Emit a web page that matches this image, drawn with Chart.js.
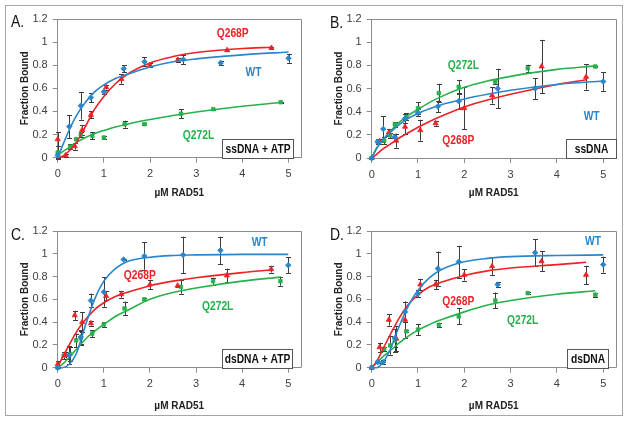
<!DOCTYPE html>
<html>
<head>
<meta charset="utf-8">
<script src="https://cdn.jsdelivr.net/npm/chart.js@4.4.1/dist/chart.umd.min.js"></script>
<style>
  body { margin: 0; background: #fff; }
  #fig { position: relative; width: 629px; height: 425px; overflow: hidden; }
  #frame { position: absolute; left: 5px; top: 5px; width: 616px; height: 409px; border: 1px solid #a6a6a6; }
  canvas { position: absolute; }
</style>
</head>
<body>
<div id="fig">
  <div id="frame"></div>
  <canvas id="panelA" width="314" height="212" style="left:0;top:0"></canvas>
  <canvas id="panelB" width="315" height="212" style="left:314px;top:0"></canvas>
  <canvas id="panelC" width="314" height="213" style="left:0;top:212px"></canvas>
  <canvas id="panelD" width="315" height="213" style="left:314px;top:212px"></canvas>
</div>
<script>
/* DATA */

// концентрации RAD51 (µM) для каждой серии
const wtConc    = [0, 0.13, 0.25, 0.5, 0.72, 1.0, 1.43, 1.88, 2.72, 3.53, 5.0];
const q268pConc = [0, 0.17, 0.37, 0.53, 0.72, 1.05, 1.38, 2.0, 2.6, 3.67, 4.63];
const q272lConc = [0, 0.13, 0.27, 0.4, 0.5, 0.75, 1.0, 1.45, 1.88, 2.67, 3.37, 4.83];

// точки кривых аппроксимации (последняя точка - конец кривой)
const wtFitX    = [0, 0.1, 0.25, 0.4, 0.6, 0.8, 1, 1.25, 1.5, 2, 2.5, 3, 4, 5];
const q268pFitX = [0, 0.1, 0.25, 0.4, 0.6, 0.8, 1, 1.25, 1.5, 2, 2.5, 3, 4, 4.63];
const q272lFitX = [0, 0.1, 0.25, 0.4, 0.6, 0.8, 1, 1.25, 1.5, 2, 2.5, 3, 4, 4.83];

// A. ssDNA + ATP
const aWt       = [0.02, null, 0.27, 0.45, 0.52, 0.57, 0.77, 0.83, 0.85, 0.82, 0.86];
const aWtErr    = [0.02, null, 0.10, 0.12, 0.04, 0.02, 0.03, 0.04, 0.04, 0.015, 0.04];
const aQ268p    = [0.16, 0.02, 0.10, 0.24, 0.37, 0.61, 0.68, 0.80, 0.845, 0.93, 0.95];
const aQ268pErr = [0.06, 0.01, 0.03, 0.04, 0.03, 0.02, 0.04, 0.015, 0.02, 0.01, 0.01];
const aQ272l    = [0.045, null, 0.095, 0.16, 0.20, 0.19, 0.175, 0.29, 0.29, 0.38, 0.42, 0.48];
const aQ272lErr = [0.06, null, 0.02, 0.01, 0.02, 0.03, 0.01, 0.03, 0.01, 0.04, 0.005, 0.005];
const aWtFit    = [0, 0.10, 0.24, 0.36, 0.48, 0.57, 0.63, 0.685, 0.72, 0.785, 0.83, 0.855, 0.89, 0.915];
const aQ268pFit = [0, 0.01, 0.06, 0.13, 0.27, 0.42, 0.53, 0.64, 0.72, 0.82, 0.875, 0.91, 0.945, 0.955];
const aQ272lFit = [0.02, 0.05, 0.09, 0.13, 0.175, 0.21, 0.235, 0.265, 0.29, 0.33, 0.365, 0.395, 0.445, 0.478];

// B. ssDNA
const bWt       = [0, 0.14, 0.25, 0.18, 0.34, 0.39, 0.445, 0.49, 0.60, 0.60, 0.66];
const bWtErr    = [0, 0.02, 0.11, 0.03, 0.04, 0.03, 0.05, 0.07, 0.17, 0.09, 0.08];
const bQ268p    = [0, 0.145, 0.22, 0.15, 0.27, 0.24, 0.30, 0.43, 0.54, 0.79, 0.70];
const bQ268pErr = [0, 0.02, 0.03, 0.06, 0.06, 0.09, 0.02, 0.18, 0.07, 0.23, 0.11];
const bQ272l    = [0, 0.14, 0.15, 0.195, 0.29, 0.355, 0.43, 0.56, 0.615, 0.66, 0.775, 0.79];
const bQ272lErr = [0, 0.02, 0.03, 0.02, 0.02, 0.03, 0.05, 0.08, 0.06, 0.02, 0.03, 0.005];
const bWtFit    = [0, 0.08, 0.16, 0.22, 0.29, 0.345, 0.385, 0.425, 0.46, 0.51, 0.55, 0.585, 0.635, 0.665];
const bQ268pFit = [0, 0.03, 0.08, 0.12, 0.175, 0.22, 0.265, 0.315, 0.36, 0.44, 0.50, 0.55, 0.635, 0.675];
const bQ272lFit = [0, 0.08, 0.16, 0.23, 0.31, 0.37, 0.42, 0.48, 0.53, 0.61, 0.665, 0.705, 0.765, 0.795];

// C. dsDNA + ATP
const cWt       = [0, null, 0.11, 0.27, 0.59, 0.665, 0.95, 0.98, 0.99, 1.03, 0.90];
const cWtErr    = [0, null, 0.08, 0.06, 0.06, 0.13, 0.005, 0.12, 0.16, 0.12, 0.07];
const cQ268p    = [0.03, 0.11, 0.46, 0.40, 0.39, 0.63, 0.645, 0.73, 0.72, 0.81, 0.865];
const cQ268pErr = [0.03, 0.03, 0.04, 0.09, 0.02, 0.04, 0.03, 0.04, 0.01, 0.06, 0.03];
const cQ272l    = [0, 0.105, 0.12, 0.24, 0.26, 0.30, 0.38, 0.52, 0.60, 0.71, 0.76, 0.76];
const cQ272lErr = [0, 0.03, 0.06, 0.06, 0.06, 0.03, 0.02, 0.06, 0.01, 0.06, 0.03, 0.04];
const cWtFit    = [0, 0, 0.03, 0.12, 0.37, 0.60, 0.76, 0.87, 0.93, 0.97, 0.985, 0.99, 0.995, 0.995];
const cQ268pFit = [0, 0.09, 0.20, 0.31, 0.42, 0.51, 0.57, 0.625, 0.66, 0.72, 0.76, 0.79, 0.835, 0.858];
const cQ272lFit = [0, 0.03, 0.09, 0.16, 0.25, 0.32, 0.38, 0.45, 0.50, 0.60, 0.66, 0.70, 0.76, 0.795];

// D. dsDNA
const dWt       = [0, 0.05, 0.05, 0.26, 0.49, 0.65, 0.87, 0.93, 0.73, 1.01, 0.905];
const dWtErr    = [0, 0.01, 0.02, 0.08, 0.09, 0.03, 0.15, 0.14, 0.02, 0.12, 0.07];
const dQ268p    = [0, 0.18, 0.42, 0.255, 0.42, 0.73, 0.73, 0.815, 0.89, 0.935, 0.815];
const dQ268pErr = [0, 0.04, 0.05, 0.11, 0.16, 0.05, 0.04, 0.05, 0.08, 0.09, 0.08];
const dQ272l    = [0, 0.05, 0.165, 0.195, 0.24, 0.32, 0.335, 0.375, 0.45, 0.59, 0.655, 0.64];
const dQ272lErr = [0, 0.01, 0.02, 0.08, 0.10, 0.01, 0.05, 0.02, 0.07, 0.07, 0.01, 0.02];
const dWtFit    = [0, 0, 0.05, 0.16, 0.37, 0.55, 0.68, 0.79, 0.86, 0.93, 0.96, 0.975, 0.985, 0.99];
const dQ268pFit = [0, 0.05, 0.17, 0.29, 0.44, 0.56, 0.64, 0.71, 0.75, 0.81, 0.85, 0.875, 0.905, 0.925];
const dQ272lFit = [0, 0.04, 0.10, 0.15, 0.22, 0.28, 0.33, 0.38, 0.42, 0.49, 0.55, 0.59, 0.645, 0.675];

// оси
const xTickValues = [0, 1, 2, 3, 4, 5];
const xTickLabels = ['0', '1', '2', '3', '4', '5'];
const yTickValues = [0, 0.2, 0.4, 0.6, 0.8, 1.0, 1.2];
const yTickLabels = ['0', '0.2', '0.4', '0.6', '0.8', '1', '1.2'];

/* STYLE */

const FONT = "'Liberation Sans', Arial, sans-serif";
const NARROW = 0.82;                     // сжатие текста по горизонтали (как Calibri)
const BLUE = '#2a86cb';
const RED = '#ee2226';
const GREEN = '#26b14b';
const AXIS = '#8c8c8c';

// текст, сжатый по горизонтали
function condensedText(ctx, text, x, y, k) {
    ctx.save();
    ctx.translate(x, y);
    ctx.scale(k, 1);
    ctx.fillText(text, 0, 0);
    ctx.restore();
}

/* PLUGIN: рамка, планки погрешностей, подписи */

const panelDecor = {
    id: 'panelDecor',
    beforeDatasetsDraw(chart, args, opts) {
        const { ctx, chartArea: a, scales: { x, y } } = chart;
        ctx.save();
        // верх и правая граница области графика
        ctx.strokeStyle = AXIS;
        ctx.lineWidth = 1;
        ctx.beginPath();
        ctx.moveTo(a.left, Math.round(a.top) + 0.5);
        ctx.lineTo(Math.round(a.right) + 0.5, Math.round(a.top) + 0.5);
        ctx.lineTo(Math.round(a.right) + 0.5, a.bottom);
        ctx.stroke();

        // планки погрешностей
        ctx.strokeStyle = '#3c3c3c';
        chart.data.datasets.forEach(ds => {
            if (!ds.errors) return;
            ds.data.forEach((p, j) => {
                const e = ds.errors[j];
                if (p.y == null || !e) return;
                const px = Math.round(x.getPixelForValue(p.x)) + 0.5;
                const y1 = y.getPixelForValue(p.y - e);
                const y2 = y.getPixelForValue(p.y + e);
                ctx.beginPath();
                ctx.moveTo(px, y1); ctx.lineTo(px, y2);
                ctx.moveTo(px - 2.5, Math.round(y1) + 0.5); ctx.lineTo(px + 2.5, Math.round(y1) + 0.5);
                ctx.moveTo(px - 2.5, Math.round(y2) + 0.5); ctx.lineTo(px + 2.5, Math.round(y2) + 0.5);
                ctx.stroke();
            });
        });
        ctx.restore();
    },
    afterDatasetsDraw(chart, args, opts) {
        const { ctx, chartArea: a, scales: { x, y } } = chart;
        ctx.save();
        ctx.textAlign = 'center';
        ctx.textBaseline = 'middle';

        // подписи серий
        ctx.font = 'bold 12.5px ' + FONT;
        opts.labels.forEach(l => {
            ctx.fillStyle = l.color;
            condensedText(ctx, l.text, x.getPixelForValue(l.x), y.getPixelForValue(l.y), NARROW);
        });

        // рамка с условием
        const b = opts.box;
        const bx = Math.round(a.right - b.right - b.width) + 0.5;
        const by = Math.round(a.bottom - 19) + 0.5;
        ctx.fillStyle = '#fff';
        ctx.fillRect(bx, by, b.width, 19);
        ctx.strokeStyle = '#555';
        ctx.strokeRect(bx, by, b.width, 19);
        ctx.fillStyle = '#111';
        ctx.font = 'bold 12.5px ' + FONT;
        condensedText(ctx, b.text, bx + b.width / 2, by + 10, NARROW);

        // буква панели
        ctx.textAlign = 'left';
        ctx.font = '17px ' + FONT;
        ctx.fillStyle = '#111';
        condensedText(ctx, opts.letter.text, opts.letter.x, opts.letter.y, NARROW);
        ctx.restore();
    }
};

/* CHARTS */

function points(conc, vals) {
    return conc.map((c, i) => ({ x: c, y: vals[i] }));
}

function GenerateChart(htmltag, p) {
    const series = [
        { color: BLUE, style: 'rectRot', radius: 2.8, conc: wtConc, vals: p.wt, err: p.wtErr, fitX: wtFitX, fit: p.wtFit },
        { color: RED, style: 'triangle', radius: 3, conc: q268pConc, vals: p.q268p, err: p.q268pErr, fitX: q268pFitX, fit: p.q268pFit },
        { color: GREEN, style: 'rect', radius: 2.5, conc: q272lConc, vals: p.q272l, err: p.q272lErr, fitX: q272lFitX, fit: p.q272lFit }
    ];

    const datasets = [];
    series.forEach(s => {
        datasets.push({
            data: points(s.conc, s.vals),
            errors: s.err,
            showLine: false,
            pointStyle: s.style,
            pointRadius: s.radius,
            pointBorderWidth: 0.8,
            pointBackgroundColor: s.color,
            pointBorderColor: s.color,
            clip: 8
        });
        datasets.push({
            data: points(s.fitX, s.fit),
            showLine: true,
            pointRadius: 0,
            borderColor: s.color,
            borderWidth: 1.6,
            cubicInterpolationMode: 'monotone',
            clip: 8
        });
    });

    const tickFont = { family: FONT, size: 11 };
    const titleFont = { family: FONT, size: 10, weight: 'bold' };

    return new Chart(document.getElementById(htmltag), {
        type: 'scatter',
        data: { datasets: datasets },
        options: {
            responsive: false,
            animation: false,
            layout: { padding: { top: 19, right: p.padRight, left: 0, bottom: 0 } },
            plugins: {
                legend: { display: false },
                tooltip: { enabled: false },
                panelDecor: { labels: p.labels, box: p.box, letter: p.letter }
            },
            scales: {
                x: {
                    type: 'linear',
                    min: 0,
                    max: 5.27,
                    afterBuildTicks: s => { s.ticks = xTickValues.map(v => ({ value: v })); },
                    afterFit: s => { s.height = p.xHeight; },
                    grid: { display: true, drawOnChartArea: false, drawTicks: true, tickLength: 5, color: AXIS },
                    border: { display: true, color: AXIS, width: 1 },
                    ticks: {
                        font: tickFont,
                        color: '#404040',
                        padding: 5,
                        maxRotation: 0,
                        autoSkip: false,
                        callback: (v, i) => xTickLabels[i]
                    },
                    title: { display: true, text: 'µM RAD51', font: titleFont, color: '#222', padding: { top: 0, bottom: p.xTitlePad } }
                },
                y: {
                    type: 'linear',
                    min: 0,
                    max: 1.2,
                    afterBuildTicks: s => { s.ticks = yTickValues.map(v => ({ value: v })); },
                    afterFit: s => { s.width = 57.7; },
                    grid: { display: true, drawOnChartArea: false, drawTicks: true, tickLength: 5, color: AXIS },
                    border: { display: true, color: AXIS, width: 1 },
                    ticks: {
                        font: tickFont,
                        color: '#404040',
                        padding: 5,
                        autoSkip: false,
                        callback: (v, i) => yTickLabels[i]
                    },
                    title: { display: true, text: 'Fraction Bound', font: titleFont, color: '#222', padding: { top: 19, bottom: 0 } }
                }
            }
        },
        plugins: [panelDecor]
    });
}

GenerateChart('panelA', {
    wt: aWt, wtErr: aWtErr, wtFit: aWtFit,
    q268p: aQ268p, q268pErr: aQ268pErr, q268pFit: aQ268pFit,
    q272l: aQ272l, q272lErr: aQ272lErr, q272lFit: aQ272lFit,
    padRight: 13, xHeight: 54.3, xTitlePad: 12.4,
    letter: { text: 'A.', x: 11, y: 22 },
    box: { text: 'ssDNA + ATP', width: 71, right: 8 },
    labels: [
        { text: 'Q268P', x: 3.79, y: 1.07, color: RED },
        { text: 'WT', x: 4.24, y: 0.74, color: BLUE },
        { text: 'Q272L', x: 3.05, y: 0.19, color: GREEN }
    ]
});

GenerateChart('panelB', {
    wt: bWt, wtErr: bWtErr, wtFit: bWtFit,
    q268p: bQ268p, q268pErr: bQ268pErr, q268pFit: bQ268pFit,
    q272l: bQ272l, q272lErr: bQ272lErr, q272lFit: bQ272lFit,
    padRight: 13.3, xHeight: 54, xTitlePad: 12.4,
    letter: { text: 'B.', x: 16, y: 23 },
    box: { text: 'ssDNA', width: 50, right: 0 },
    labels: [
        { text: 'Q272L', x: 1.98, y: 0.80, color: GREEN },
        { text: 'WT', x: 4.75, y: 0.355, color: BLUE },
        { text: 'Q268P', x: 1.87, y: 0.15, color: RED }
    ]
});

GenerateChart('panelC', {
    wt: cWt, wtErr: cWtErr, wtFit: cWtFit,
    q268p: cQ268p, q268pErr: cQ268pErr, q268pFit: cQ268pFit,
    q272l: cQ272l, q272lErr: cQ272lErr, q272lFit: cQ272lFit,
    padRight: 13.3, xHeight: 57.3, xTitlePad: 13,
    letter: { text: 'C.', x: 11, y: 23 },
    box: { text: 'dsDNA + ATP', width: 70, right: 9 },
    labels: [
        { text: 'WT', x: 4.38, y: 1.10, color: BLUE },
        { text: 'Q268P', x: 1.78, y: 0.81, color: RED },
        { text: 'Q272L', x: 3.47, y: 0.54, color: GREEN }
    ]
});

GenerateChart('panelD', {
    wt: dWt, wtErr: dWtErr, wtFit: dWtFit,
    q268p: dQ268p, q268pErr: dQ268pErr, q268pFit: dQ268pFit,
    q272l: dQ272l, q272lErr: dQ272lErr, q272lFit: dQ272lFit,
    padRight: 13.3, xHeight: 57.3, xTitlePad: 13,
    letter: { text: 'D.', x: 16, y: 23 },
    box: { text: 'dsDNA', width: 41, right: 8 },
    labels: [
        { text: 'WT', x: 4.78, y: 1.11, color: BLUE },
        { text: 'Q268P', x: 1.87, y: 0.58, color: RED },
        { text: 'Q272L', x: 3.26, y: 0.41, color: GREEN }
    ]
});
</script>
</body>
</html>
